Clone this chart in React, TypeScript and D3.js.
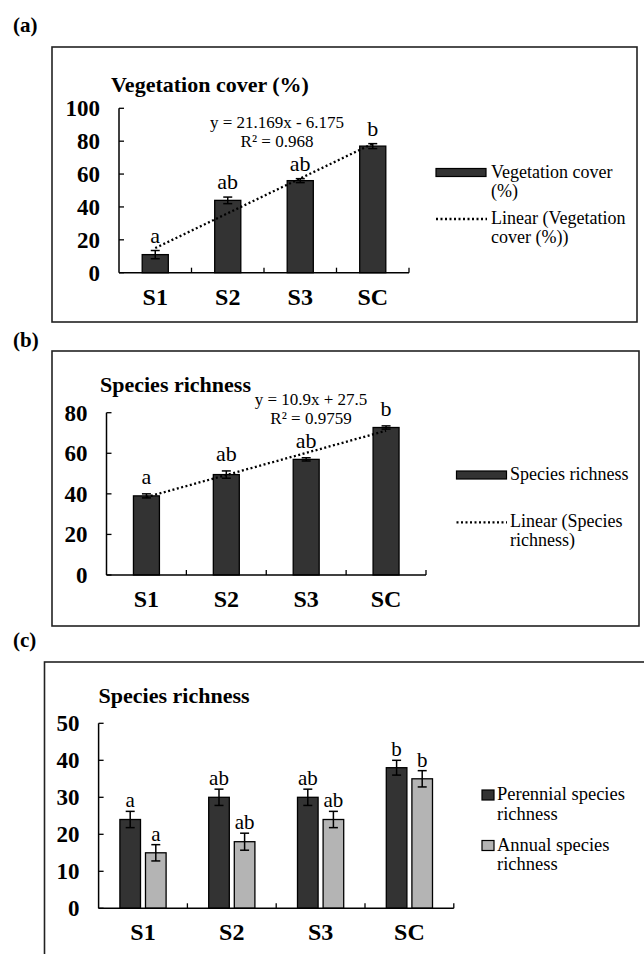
import React, { useEffect } from "react";
import * as d3 from "d3";

// ---- data ----
const SITES = ["S1", "S2", "S3", "SC"];

const COVER = [11, 44, 56, 77];
const COVER_ERR = [2.5, 2, 1.2, 1.5];
const COVER_LETTERS = ["a", "ab", "ab", "b"];
const COVER_TREND = { slope: 21.169, intercept: -6.175, eq: "y = 21.169x - 6.175", r2: "R² = 0.968" };

const RICH = [39, 49.5, 57, 72.7];
const RICH_ERR = [1, 1.8, 0.8, 0.8];
const RICH_LETTERS = ["a", "ab", "ab", "b"];
const RICH_TREND = { slope: 10.9, intercept: 27.5, eq: "y = 10.9x + 27.5", r2: "R² = 0.9759" };

const PERENNIAL = [24, 30, 30, 38];
const PERENNIAL_ERR = [2.2, 2.2, 2.2, 2];
const PERENNIAL_LETTERS = ["a", "ab", "ab", "b"];
const ANNUAL = [15, 18, 24, 35];
const ANNUAL_ERR = [2.2, 2.3, 2.2, 2.2];
const ANNUAL_LETTERS = ["a", "ab", "ab", "b"];

const TICKS_A = [0, 20, 40, 60, 80, 100];
const TICKS_B = [0, 20, 40, 60, 80];
const TICKS_C = [0, 10, 20, 30, 40, 50];

const DARK = "#333333";
const LIGHT = "#b4b4b4";
const FONT = "'Liberation Serif', 'Times New Roman', serif";

interface Series {
  values: number[];
  errs: number[];
  letters: string[];
  fill: string;
}

interface PanelProps {
  x0: number;
  x1: number;
  y0: number;
  y1: number;
  ymax: number;
  ticks: number[];
  series: Series[];
  barFrac: number;
  gap: number;
  letterGap: number;
  letterSize: number;
  title: string;
  titleX: number;
  titleY: number;
  trend?: { slope: number; intercept: number; eq: string; r2: string };
  eqX?: number;
  eqY?: number;
}

function Panel(p: PanelProps) {
  const x = d3.scaleBand().domain(SITES).range([p.x0, p.x1]);
  const y = d3.scaleLinear().domain([0, p.ymax]).range([p.y0, p.y1]);
  const bw = x.bandwidth() * p.barFrac;
  const n = p.series.length;
  const groupW = n * bw + (n - 1) * p.gap;

  const trendPts = p.trend
    ? SITES.map((s, i) => [x(s)! + x.bandwidth() / 2, y(p.trend!.slope * (i + 1) + p.trend!.intercept)] as [number, number])
    : [];
  const trendLine = d3.line()([trendPts[0], trendPts[trendPts.length - 1]].filter(Boolean) as [number, number][]);

  return (
    <g fontFamily={FONT}>
      <text x={p.titleX} y={p.titleY} fontSize={22} fontWeight={700}>{p.title}</text>
      {/* bars */}
      {p.series.map((se, k) =>
        SITES.map((s, i) => {
          const bx = x(s)! + x.bandwidth() / 2 - groupW / 2 + k * (bw + p.gap);
          const cx = bx + bw / 2;
          const top = y(se.values[i]);
          const et = y(se.values[i] + se.errs[i]);
          const eb = y(se.values[i] - se.errs[i]);
          return (
            <g key={`${k}-${s}`}>
              <rect x={bx} y={top} width={bw} height={p.y0 - top} fill={se.fill} stroke="#000" strokeWidth={1.3} />
              <line x1={cx} x2={cx} y1={et} y2={eb} stroke="#000" strokeWidth={1.5} />
              <line x1={cx - 4.5} x2={cx + 4.5} y1={et} y2={et} stroke="#000" strokeWidth={1.5} />
              <line x1={cx - 4.5} x2={cx + 4.5} y1={eb} y2={eb} stroke="#000" strokeWidth={1.5} />
              <text x={cx} y={et - p.letterGap} textAnchor="middle" fontSize={p.letterSize}>{se.letters[i]}</text>
            </g>
          );
        })
      )}
      {/* trendline */}
      {p.trend && (
        <>
          <path d={trendLine || ""} stroke="#000" strokeWidth={2.3} strokeDasharray="2 2.5" fill="none" />
          <text x={p.eqX} y={p.eqY} textAnchor="middle" fontSize={17}>{p.trend.eq}</text>
          <text x={p.eqX} y={(p.eqY || 0) + 19} textAnchor="middle" fontSize={17}>{p.trend.r2}</text>
        </>
      )}
      {/* y axis */}
      <line x1={p.x0} x2={p.x0} y1={p.y0} y2={p.y1} stroke="#000" strokeWidth={1.5} />
      {p.ticks.map((t) => (
        <g key={t}>
          <line x1={p.x0} x2={p.x0 + 5} y1={y(t)} y2={y(t)} stroke="#000" strokeWidth={1.3} />
          <text x={p.x0 - 19} y={y(t) + 8} textAnchor="end" fontSize={23} fontWeight={700}>{t}</text>
        </g>
      ))}
      {/* x axis */}
      <line x1={p.x0} x2={p.x1} y1={p.y0} y2={p.y0} stroke="#000" strokeWidth={1.5} />
      {SITES.map((s) => (
        <g key={s}>
          <line x1={x(s)! + x.bandwidth()} x2={x(s)! + x.bandwidth()} y1={p.y0} y2={p.y0 - 5} stroke="#000" strokeWidth={1.3} />
          <text x={x(s)! + x.bandwidth() / 2} y={p.y0 + 32} textAnchor="middle" fontSize={24} fontWeight={700}>{s}</text>
        </g>
      ))}
    </g>
  );
}

export default function App() {
  useEffect(() => {
    document.body.style.margin = "0";
  }, []);

  return (
    <svg width={644} height={954} style={{ position: "absolute", left: 0, top: 0, background: "#fff" }}>
      <rect width={644} height={954} fill="#fff" />
      <g fontFamily={FONT} fontWeight={700} fontSize={21}>
        <text x={13} y={32}>(a)</text>
        <text x={13} y={347}>(b)</text>
        <text x={13} y={647}>(c)</text>
      </g>
      {/* panel frames */}
      <rect x={52} y={47} width={585} height={275} fill="none" stroke="#222" strokeWidth={1.6} />
      <rect x={52} y={351} width={587} height={275} fill="none" stroke="#222" strokeWidth={1.6} />
      <rect x={44.5} y={662} width={640} height={340} fill="none" stroke="#222" strokeWidth={1.6} />

      <Panel
        x0={119} x1={409} y0={272.7} y1={108.3} ymax={100} ticks={TICKS_A}
        series={[{ values: COVER, errs: COVER_ERR, letters: COVER_LETTERS, fill: DARK }]}
        barFrac={0.36} gap={0} letterGap={8} letterSize={22}
        title="Vegetation cover (%)" titleX={111} titleY={92}
        trend={COVER_TREND} eqX={277} eqY={128}
      />
      <Panel
        x0={106.5} x1={426} y0={575} y1={412.7} ymax={80} ticks={TICKS_B}
        series={[{ values: RICH, errs: RICH_ERR, letters: RICH_LETTERS, fill: DARK }]}
        barFrac={0.325} gap={0} letterGap={10} letterSize={22}
        title="Species richness" titleX={100} titleY={392}
        trend={RICH_TREND} eqX={311} eqY={405}
      />
      <Panel
        x0={98.6} x1={453.8} y0={908.3} y1={723.3} ymax={50} ticks={TICKS_C}
        series={[
          { values: PERENNIAL, errs: PERENNIAL_ERR, letters: PERENNIAL_LETTERS, fill: DARK },
          { values: ANNUAL, errs: ANNUAL_ERR, letters: ANNUAL_LETTERS, fill: LIGHT },
        ]}
        barFrac={0.232} gap={5} letterGap={4} letterSize={21}
        title="Species richness" titleX={98.6} titleY={703}
      />

      {/* legends */}
      <g fontFamily={FONT} fontSize={18}>
        <rect x={436} y={168.5} width={50} height={8} fill={DARK} stroke="#000" strokeWidth={1.2} />
        <text x={491} y={177.5}>Vegetation cover</text>
        <text x={491} y={197}>(%)</text>
        <line x1={436} x2={487} y1={219} y2={219} stroke="#000" strokeWidth={2.3} strokeDasharray="2 2.5" />
        <text x={491} y={223.5}>Linear (Vegetation</text>
        <text x={491} y={243}>cover (%))</text>

        <rect x={456.5} y={471} width={50} height={8} fill={DARK} stroke="#000" strokeWidth={1.2} />
        <text x={510} y={479.5}>Species richness</text>
        <line x1={456.5} x2={507} y1={522.3} y2={522.3} stroke="#000" strokeWidth={2.3} strokeDasharray="2 2.5" />
        <text x={510} y={527}>Linear (Species</text>
        <text x={510} y={546}>richness)</text>
      </g>
      <g fontFamily={FONT} fontSize={18.5}>
        <rect x={482} y={790} width={12} height={10} fill={DARK} stroke="#000" strokeWidth={1.2} />
        <text x={497} y={800}>Perennial species</text>
        <text x={497} y={820}>richness</text>
        <rect x={482} y={840.5} width={12} height={10} fill={LIGHT} stroke="#000" strokeWidth={1.2} />
        <text x={497} y={851}>Annual species</text>
        <text x={497} y={870}>richness</text>
      </g>
    </svg>
  );
}
